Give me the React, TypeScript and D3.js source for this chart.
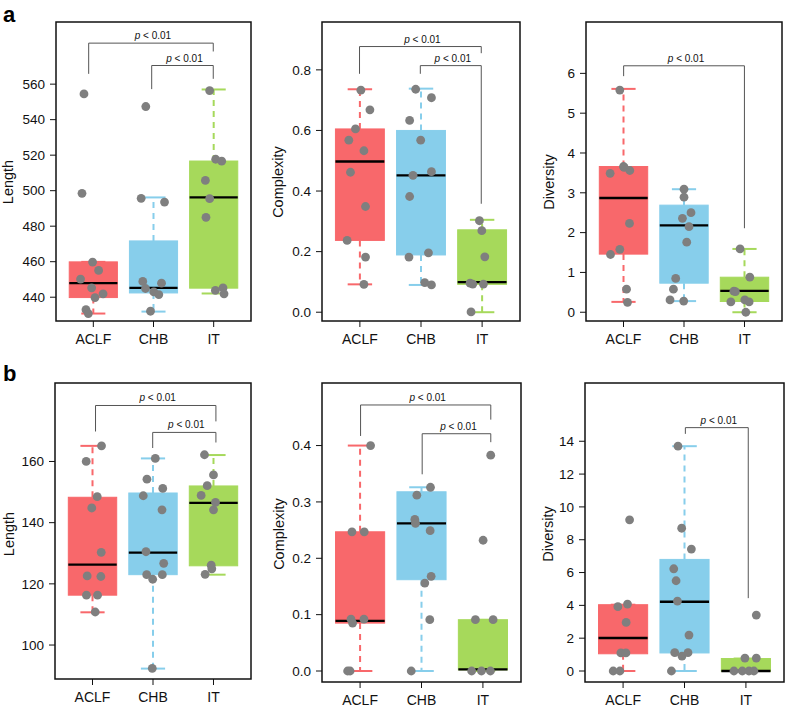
import * as d3 from 'd3'

const GROUPS = ['ACLF', 'CHB', 'IT']
const FILLS = ['#F8686B', '#87CEEB', '#A6D95B']
const POINT = '#7F7F7F'
const FONT = '"Liberation Sans", Arial, Helvetica, sans-serif'

// ---- row a ----
const lenA = [
  [554.5, 498.5, 459.8, 455.1, 450.2, 445.3, 441.9, 439.8, 433.0, 430.8],
  [547.4, 495.7, 493.6, 448.9, 447.9, 444.9, 443.0, 441.5, 432.1],
  [556.4, 517.7, 516.6, 505.8, 495.5, 485.0, 443.8, 445.2, 441.9],
]
const lenAJit = [
  [-0.155, -0.188, -0.012, 0.088, -0.212, -0.028, 0.162, 0.028, -0.122, -0.083],
  [-0.128, -0.205, 0.183, -0.178, 0.133, -0.133, 0.005, 0.088, -0.05],
  [-0.067, 0.033, 0.133, -0.138, -0.067, -0.128, 0.028, 0.155, 0.172],
]
// [low whisker, Q1, median, Q3, high whisker]
const lenABox = [
  [430.8, 439.8, 447.9, 459.9, 459.9],
  [431.9, 442.4, 445.3, 471.7, 496.2],
  [442.1, 445.1, 496.2, 516.7, 557.0],
]

const cpxA = [
  [0.733, 0.668, 0.605, 0.568, 0.533, 0.462, 0.349, 0.237, 0.182, 0.092],
  [0.736, 0.708, 0.633, 0.568, 0.452, 0.464, 0.382, 0.182, 0.196, 0.098, 0.09],
  [0.302, 0.269, 0.183, 0.096, 0.093, 0.093, 0.001],
]
const cpxAJit = [
  [0.016, 0.164, -0.072, -0.181, 0.066, -0.154, 0.092, -0.209, 0.092, 0.066],
  [-0.087, 0.171, -0.186, -0.005, -0.131, 0.171, -0.186, -0.197, 0.122, 0.061, 0.171],
  [-0.044, -0.005, 0.044, -0.197, -0.153, 0.021, -0.181],
]
const cpxABox = [
  [0.092, 0.237, 0.4975, 0.605, 0.736],
  [0.09, 0.189, 0.452, 0.6, 0.738],
  [0.0, 0.092, 0.099, 0.272, 0.305],
]

const divA = [
  [5.58, 3.66, 3.64, 3.56, 3.49, 2.23, 1.58, 1.45, 0.58, 0.25],
  [3.09, 2.89, 2.5, 2.36, 2.15, 1.76, 0.85, 0.58, 0.31, 0.28],
  [1.59, 0.88, 0.53, 0.52, 0.26, 0.31, 0.26, 0.0],
]
const divAJit = [
  [-0.061, 0.0, 0.01, 0.104, -0.221, 0.099, -0.061, -0.215, 0.05, 0.066],
  [0.0, 0.0, 0.116, -0.026, 0.083, 0.045, -0.137, -0.175, -0.231, -0.005],
  [-0.073, 0.088, -0.176, -0.15, -0.226, 0.005, 0.076, 0.022],
]
const divABox = [
  [0.26, 1.46, 2.87, 3.66, 5.61],
  [0.28, 0.73, 2.18, 2.69, 3.09],
  [0.0, 0.27, 0.535, 0.88, 1.59],
]

// ---- row b ----
const lenB = [
  [165.1, 160.0, 148.5, 144.8, 130.3, 122.6, 122.4, 116.3, 116.3, 110.8],
  [161.0, 154.2, 151.2, 148.8, 144.2, 130.5, 126.7, 123.0, 123.0, 121.5, 92.4],
  [162.2, 155.6, 152.1, 148.9, 146.6, 144.2, 126.1, 124.9, 123.1],
]
const lenBJit = [
  [0.149, -0.104, 0.078, -0.012, 0.144, -0.088, 0.138, -0.1, 0.083, 0.045],
  [0.038, -0.1, 0.161, -0.161, 0.149, -0.116, 0.177, -0.104, 0.154, -0.005, -0.012],
  [-0.149, 0.0, -0.104, -0.204, 0.033, 0.0, -0.038, -0.028, -0.138],
]
const lenBBox = [
  [110.7, 116.3, 126.3, 148.3, 165.1],
  [92.3, 123.0, 130.2, 149.7, 161.0],
  [123.0, 125.9, 146.5, 152.0, 162.1],
]

const cpxB = [
  [0.4, 0.247, 0.247, 0.092, 0.092, 0.085, 0.0, 0.0],
  [0.326, 0.312, 0.269, 0.262, 0.249, 0.168, 0.156, 0.091, 0.0],
  [0.383, 0.232, 0.091, 0.091, 0.0, 0.0, 0.0],
]
const cpxBJit = [
  [0.171, -0.132, 0.068, -0.148, 0.063, -0.122, -0.203, -0.163],
  [0.146, -0.076, -0.109, -0.098, 0.141, 0.157, 0.054, 0.135, -0.167],
  [0.127, 0.003, -0.122, 0.166, -0.183, -0.024, 0.122],
]
const cpxBBox = [
  [0.0, 0.085, 0.089, 0.247, 0.4],
  [0.0, 0.162, 0.262, 0.318, 0.326],
  [0.0, 0.002, 0.003, 0.091, 0.091],
]

const divB = [
  [9.21, 4.08, 3.92, 2.96, 1.1, 1.1, 0.0, 0.0],
  [13.7, 8.7, 7.43, 6.23, 5.5, 4.26, 2.19, 1.12, 0.91, 1.12, 0.0],
  [3.41, 0.79, 0.79, 0.0, 0.0, 0.0, 0.0],
]
const divBJit = [
  [0.106, 0.072, -0.085, 0.05, -0.036, 0.046, -0.161, -0.052],
  [-0.106, -0.046, 0.112, -0.175, -0.137, -0.115, 0.073, -0.159, -0.041, 0.057, -0.213],
  [0.169, -0.016, 0.169, -0.195, -0.059, 0.049, 0.13],
]
const divBBox = [
  [0.0, 1.05, 2.01, 4.04, 4.04],
  [0.0, 1.1, 4.22, 6.8, 13.7],
  [0.0, -0.02, 0.0, 0.76, 0.76],
]

// significance brackets: [x left, x right, y top, y left end, y right end]
const brLenA = [[0.923, 2.993, 583.1, 565.8, 578.4], [1.97, 2.993, 570.5, 557.2, 563.0]]
const brCpxA = [[0.994, 2.986, 0.877, 0.787, 0.855], [1.989, 2.986, 0.814, 0.787, 0.358]]
const brDivA = [[1.002, 2.999, 6.19, 5.93, 2.11]]
const brLenB = [[1.05, 3.04, 178.3, 169.8, 173.1], [1.995, 3.04, 169.5, 164.4, 166.2]]
const brCpxB = [[1.008, 3.128, 0.472, 0.417, 0.446], [2.011, 3.128, 0.421, 0.349, 0.406]]
const brDivB = [[2.014, 3.038, 14.83, 14.45, 4.44]]

const ticksLen = [440, 460, 480, 500, 520, 540, 560]
const ticksCpx = [0, 0.2, 0.4, 0.6, 0.8]
const ticksDiv = [0, 1, 2, 3, 4, 5, 6]
const ticksLenB = [100, 120, 140, 160]
const ticksCpxB = [0, 0.1, 0.2, 0.3, 0.4]
const ticksDivB = [0, 2, 4, 6, 8, 10, 12, 14]

const panels = [
  { title: 'Length', vals: lenA, jit: lenAJit, box: lenABox, br: brLenA, ticks: ticksLen, fmt: d3.format('d'),
    frame: [56, 251, 22, 321], domain: [426.6, 595], titleX: 13, titleY: 182 },
  { title: 'Complexity', vals: cpxA, jit: cpxAJit, box: cpxABox, br: brCpxA, ticks: ticksCpx, fmt: d3.format('.1f'),
    frame: [322, 520, 22, 321], domain: [-0.029, 0.958], titleX: 283, titleY: 182 },
  { title: 'Diversity', vals: divA, jit: divAJit, box: divABox, br: brDivA, ticks: ticksDiv, fmt: d3.format('d'),
    frame: [586, 782, 22, 321], domain: [-0.22, 7.29], titleX: 554, titleY: 182 },
  { title: 'Length', vals: lenB, jit: lenBJit, box: lenBBox, br: brLenB, ticks: ticksLenB, fmt: d3.format('d'),
    frame: [55, 251, 383, 679], domain: [88.9, 185.65], titleX: 14, titleY: 534 },
  { title: 'Complexity', vals: cpxB, jit: cpxBJit, box: cpxBBox, br: brCpxB, ticks: ticksCpxB, fmt: d3.format('.1f'),
    frame: [322, 521, 383, 682], domain: [-0.0195, 0.511], titleX: 284, titleY: 534 },
  { title: 'Diversity', vals: divB, jit: divBJit, box: divBBox, br: brDivB, ticks: ticksDivB, fmt: d3.format('d'),
    frame: [585, 784, 383, 682], domain: [-0.67, 17.55], titleX: 553, titleY: 534 },
]

function Panel({ p }: { p: any }) {
  const [x0, x1, y0, y1] = p.frame
  const x = d3.scaleLinear().domain([0.38, 3.62]).range([x0, x1])
  const y = d3.scaleLinear().domain(p.domain).range([y1, y0])
  const half = 0.4
  const capHalf = 0.2

  return (
    <g>
      {/* boxes */}
      {GROUPS.map((g, i) => {
        const [lo, q1, med, q3, hi] = p.box[i]
        const c = i + 1
        const col = FILLS[i]
        return (
          <g key={g}>
            <line x1={x(c)} x2={x(c)} y1={y(q3)} y2={y(hi)} stroke={col} strokeWidth={2} strokeDasharray="6,5" />
            <line x1={x(c)} x2={x(c)} y1={y(q1)} y2={y(lo)} stroke={col} strokeWidth={2} strokeDasharray="6,5" />
            <line x1={x(c - capHalf)} x2={x(c + capHalf)} y1={y(hi)} y2={y(hi)} stroke={col} strokeWidth={2} />
            <line x1={x(c - capHalf)} x2={x(c + capHalf)} y1={y(lo)} y2={y(lo)} stroke={col} strokeWidth={2} />
            <rect x={x(c - half)} y={y(q3)} width={x(c + half) - x(c - half)} height={Math.max(1, y(q1) - y(q3))}
              fill={col} stroke={col} strokeWidth={1} />
            <line x1={x(c - half)} x2={x(c + half)} y1={y(med)} y2={y(med)} stroke="#000" strokeWidth={2.3} />
          </g>
        )
      })}
      {/* jittered points */}
      {p.vals.map((arr: number[], i: number) =>
        arr.map((v, j) => (
          <circle key={`${i}-${j}`} cx={x(i + 1 + p.jit[i][j])} cy={y(v)} r={4.4} fill={POINT} />
        ))
      )}
      {/* brackets */}
      {p.br.map((b: number[], k: number) => {
        const [bx0, bx1, top, e0, e1] = b
        const mid = (x(bx0) + x(bx1)) / 2
        return (
          <g key={k}>
            <path d={`M${x(bx0)},${y(e0)}V${y(top)}H${x(bx1)}V${y(e1)}`} fill="none" stroke="#555" strokeWidth={1} />
            <text x={mid + 2} y={y(top) - 4} textAnchor="middle" fontSize={10} fontFamily={FONT} fill="#111">
              <tspan fontStyle="italic">p</tspan> &lt; 0.01
            </text>
          </g>
        )
      })}
      {/* frame */}
      <rect x={x0} y={y0} width={x1 - x0} height={y1 - y0} fill="none" stroke="#111" strokeWidth={1.5} />
      {/* y axis */}
      {p.ticks.map((t: number) => (
        <g key={t}>
          <line x1={x0 - 6} x2={x0} y1={y(t)} y2={y(t)} stroke="#111" strokeWidth={1} />
          <text x={x0 - 11} y={y(t)} dy="0.35em" textAnchor="end" fontSize={13.5} fontFamily={FONT} fill="#111">
            {p.fmt(t)}
          </text>
        </g>
      ))}
      {/* x axis */}
      {GROUPS.map((g, i) => (
        <g key={g}>
          <line x1={x(i + 1)} x2={x(i + 1)} y1={y1} y2={y1 + 6} stroke="#111" strokeWidth={1} />
          <text x={x(i + 1)} y={y1 + 23} textAnchor="middle" fontSize={14} fontFamily={FONT} fill="#111">{g}</text>
        </g>
      ))}
      <text transform={`translate(${p.titleX},${p.titleY}) rotate(-90)`} textAnchor="middle" fontSize={14.5}
        fontFamily={FONT} fill="#111">{p.title}</text>
    </g>
  )
}

export default function App() {
  return (
    <svg width={785} height={709} style={{ position: 'absolute', left: 0, top: 0, background: '#fff' }}>
      <rect width={785} height={709} fill="#fff" />
      {panels.map((p, i) => <Panel key={i} p={p} />)}
      <text x={3} y={22} fontSize={22} fontWeight="bold" fontFamily={FONT} fill="#000">a</text>
      <text x={3} y={381} fontSize={22} fontWeight="bold" fontFamily={FONT} fill="#000">b</text>
    </svg>
  )
}
